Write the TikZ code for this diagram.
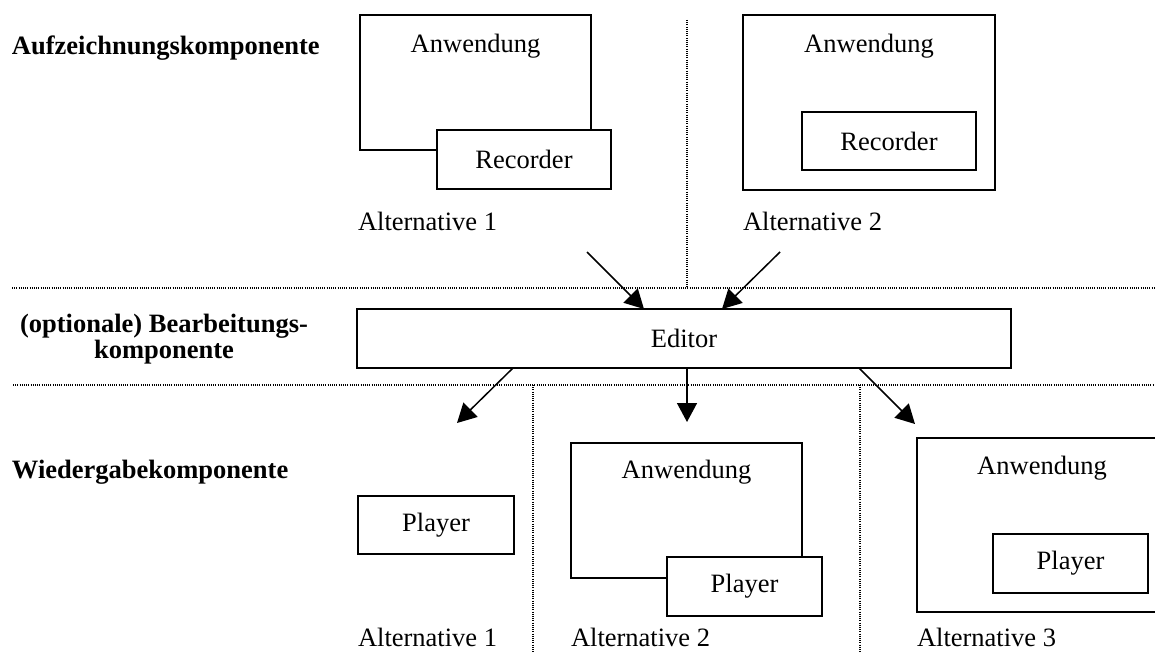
\documentclass[tikz,border=0pt]{standalone}
\usepackage{fontspec}
\setmainfont{Liberation Serif}
\usetikzlibrary{arrows.meta,calc}
\begin{document}
\begin{tikzpicture}[x=1pt,y=-1pt,
  every node/.style={font=\fontsize{26.5}{26}\selectfont, inner sep=0pt, outer sep=0pt},
  box/.style={draw, line width=1.5pt, fill=white, anchor=north west, inner sep=0pt},
  sep/.style={line width=1.1pt, dash pattern=on 1pt off 1.2pt},
  flow/.style={line width=1.5pt, -{Triangle[length=19pt,width=20pt]}},
  head/.style={font=\fontsize{26.5}{26}\selectfont\bfseries},
  altlabel/.style={anchor=base west},
]
\clip (0,0) rectangle (1155,652);

% row headings
\node[head, anchor=base west] (hRec) at (12,55) {Aufzeichnungskomponente};
\node[head, align=center, anchor=center] (hEdit) at (164,339) {(optionale) Bearbeitungs-\\komponente};
\node[head, anchor=base west] (hPlay) at (12,478) {Wiedergabekomponente};

% separators
\draw[sep] (12,288) -- (1155,288);
\draw[sep] (13,385) -- (1155,385);
\draw[sep] (687,20) -- (687,288);
\draw[sep] (533,385) -- (533,652);
\draw[sep] (860,385) -- (860,652);

% recording, alternative 1
\node[box, minimum width=231pt, minimum height=135pt] (app1) at (360,15) {};
\node[anchor=base] (app1t) at ($(app1.north)+(0,38)$) {Anwendung};
\node[box, minimum width=174pt, minimum height=59pt] (rec1) at (437,130) {Recorder};
\node[altlabel] (alt1) at (358,230) {Alternative 1};

% recording, alternative 2
\node[box, minimum width=252pt, minimum height=175pt] (app2) at (743,15) {};
\node[anchor=base] (app2t) at ($(app2.north)+(0,38)$) {Anwendung};
\node[box, minimum width=174pt, minimum height=58pt] (rec2) at (802,112) {Recorder};
\node[altlabel] (alt2) at (743,230) {Alternative 2};

% editor
\node[box, minimum width=654pt, minimum height=59pt] (editor) at (357,309) {Editor};

% playback, alternative 1
\node[box, minimum width=156pt, minimum height=58pt] (pl1) at (358,496) {Player};
\node[altlabel] (palt1) at (358,646) {Alternative 1};

% playback, alternative 2
\node[box, minimum width=231pt, minimum height=135pt] (app3) at (571,443) {};
\node[anchor=base] (app3t) at ($(app3.north)+(0,35)$) {Anwendung};
\node[box, minimum width=155pt, minimum height=59pt] (pl2) at (667,557) {Player};
\node[altlabel] (palt2) at (571,646) {Alternative 2};

% playback, alternative 3
\node[box, minimum width=250pt, minimum height=174pt] (app4) at (917,438) {};
\node[anchor=base] (app4t) at ($(app4.north)+(0,36)$) {Anwendung};
\node[box, minimum width=155pt, minimum height=59pt] (pl3) at (993,534) {Player};
\node[altlabel] (palt3) at (917,646) {Alternative 3};

% arrow ends
\coordinate (src1) at (587,252);
\coordinate (src2) at (780,252);
\coordinate (in1) at ($(editor.north west)+(287,0)$);
\coordinate (in2) at ($(editor.north west)+(365,0)$);
\coordinate (out1) at ($(editor.south west)+(156,0)$);
\coordinate (out2) at ($(editor.south west)+(330,0)$);
\coordinate (out3) at ($(editor.south west)+(502,0)$);
\coordinate (dst1) at (457,423);
\coordinate (dst2) at (687,422);
\coordinate (dst3) at (915,424);

\draw[flow] (src1) -- (in1);
\draw[flow] (src2) -- (in2);
\draw[flow] (out1) -- (dst1);
\draw[flow] (out2) -- (dst2);
\draw[flow] (out3) -- (dst3);
\end{tikzpicture}
\end{document}
